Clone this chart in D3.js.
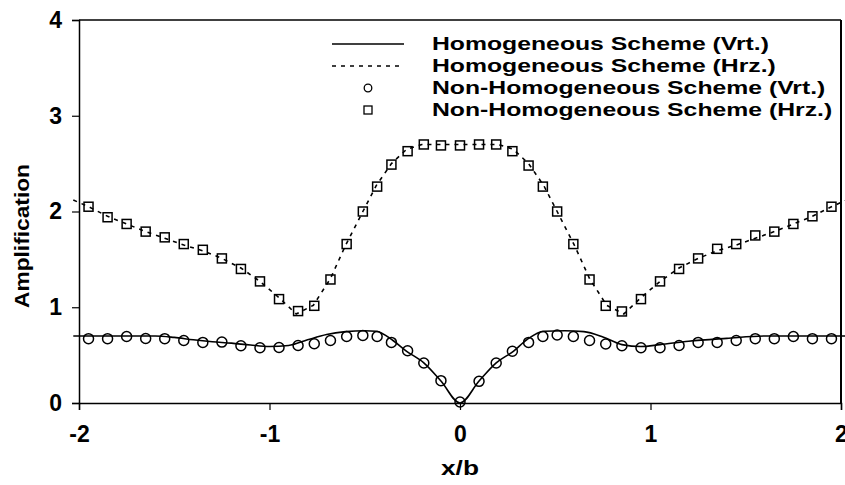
<!DOCTYPE html>
<html>
<head>
<meta charset="utf-8">
<script src="https://cdn.jsdelivr.net/npm/d3@7"></script>
<style>
  body { margin: 0; background: #fff; }
  text { font-family: Arial, "Liberation Sans", sans-serif; font-weight: bold; fill: #000; }
</style>
</head>
<body>
<div id="chart"></div>
<script>
// homogeneous scheme, vertical (solid line)
var homVrtX = [-2.03,-1.6,-1.5,-1.4,-1.3,-1.2,-1.1,-1.0,-0.9,-0.8,-0.7,-0.6,-0.5,-0.44,-0.35,-0.28,-0.19,-0.1,0,
               0.1,0.19,0.28,0.35,0.44,0.55,0.65,0.75,0.85,0.95,1.05,1.2,1.4,1.6,2.03];
var homVrtY = [0.70,0.70,0.685,0.66,0.64,0.625,0.605,0.59,0.60,0.66,0.715,0.745,0.755,0.75,0.65,0.54,0.42,0.23,0.0,
               0.23,0.42,0.54,0.66,0.75,0.755,0.745,0.69,0.61,0.59,0.61,0.645,0.675,0.70,0.70];

// homogeneous scheme, horizontal (dotted line)
var homHrzX = [-2.03,-1.95,-1.85,-1.75,-1.65,-1.55,-1.45,-1.35,-1.25,-1.15,-1.05,-0.95,-0.86,-0.77,-0.68,-0.6,-0.51,-0.44,-0.36,-0.28,-0.2,0,
               0.2,0.28,0.36,0.44,0.51,0.6,0.68,0.77,0.86,0.95,1.05,1.15,1.25,1.35,1.45,1.55,1.65,1.75,1.85,1.95,2.03];
var homHrzY = [2.12,2.05,1.95,1.87,1.79,1.72,1.65,1.59,1.51,1.41,1.27,1.10,0.93,1.02,1.30,1.65,2.0,2.27,2.5,2.65,2.70,2.70,
               2.70,2.65,2.5,2.27,2.0,1.65,1.30,1.02,0.93,1.10,1.27,1.41,1.51,1.59,1.65,1.72,1.79,1.87,1.95,2.05,2.12];

// non-homogeneous scheme sample points
var nonHomX = [-1.95,-1.85,-1.75,-1.65,-1.55,-1.45,-1.35,-1.25,-1.15,-1.05,-0.95,-0.85,-0.765,-0.68,-0.595,-0.51,-0.435,-0.36,-0.275,-0.19,-0.1,0,
               0.1,0.19,0.275,0.36,0.435,0.51,0.595,0.68,0.765,0.85,0.95,1.05,1.15,1.25,1.35,1.45,1.55,1.65,1.75,1.85,1.95];
var nonHomVrt = [0.672,0.672,0.695,0.674,0.672,0.653,0.633,0.636,0.598,0.577,0.58,0.601,0.619,0.653,0.695,0.706,0.695,0.633,0.546,0.418,0.233,0.01,
                 0.226,0.418,0.54,0.633,0.695,0.71,0.695,0.653,0.616,0.598,0.577,0.577,0.601,0.633,0.633,0.653,0.672,0.672,0.695,0.672,0.672];
var nonHomHrz = [2.05,1.94,1.87,1.79,1.73,1.66,1.60,1.51,1.40,1.27,1.085,0.96,1.015,1.29,1.66,2.0,2.26,2.49,2.63,2.70,2.69,2.69,
                 2.70,2.70,2.63,2.48,2.26,2.0,1.66,1.29,1.015,0.956,1.085,1.27,1.40,1.51,1.61,1.66,1.75,1.79,1.87,1.95,2.05];

var xTicks = [-2,-1,0,1,2];
var yTicks = [0,1,2,3,4];
var legendLabels = ["Homogeneous Scheme (Vrt.)","Homogeneous Scheme (Hrz.)",
                    "Non-Homogeneous Scheme (Vrt.)","Non-Homogeneous Scheme (Hrz.)"];

var W = 845, H = 485;
var mL = 79, mR = 841, mT = 20, mB = 403;

var svg = d3.select("#chart").append("svg").attr("width",W).attr("height",H);

var x = d3.scaleLinear().domain([-2,2]).range([mL,mR]);
var y = d3.scaleLinear().domain([0,4]).range([mB,mT]);

// frame
svg.append("line").attr("x1",mL).attr("x2",mR).attr("y1",mT).attr("y2",mT)
   .attr("stroke","#000").attr("stroke-width",1.5);
svg.append("line").attr("x1",mR).attr("x2",mR).attr("y1",mT).attr("y2",mB)
   .attr("stroke","#000").attr("stroke-width",2);

var fmt = function(d){ return String(d); };   // plain hyphen, as in the original
var xAxis = svg.append("g").attr("transform","translate(0,"+mB+")")
   .call(d3.axisBottom(x).tickValues(xTicks).tickSize(7).tickPadding(16).tickFormat(fmt));
var yAxis = svg.append("g").attr("transform","translate("+mL+",0)")
   .call(d3.axisLeft(y).tickValues(yTicks).tickSize(7).tickPadding(10).tickFormat(fmt));

[xAxis,yAxis].forEach(function(a){
    a.select(".domain").attr("stroke","#000").attr("stroke-width",1.5);
    a.selectAll(".tick line").attr("stroke","#000").attr("stroke-width",1.2);
    a.selectAll(".tick text").attr("font-size",23).attr("font-family","Arial, 'Liberation Sans', sans-serif")
     .attr("font-weight","bold").attr("fill","#000");
});

svg.append("text").attr("x",x(0)).attr("y",475).attr("text-anchor","middle")
   .attr("font-size",20).attr("textLength",38).attr("lengthAdjust","spacingAndGlyphs").text("x/b");
svg.append("text").attr("transform","translate(29,236) rotate(-90)")
   .attr("text-anchor","middle").attr("font-size",20)
   .attr("textLength",144).attr("lengthAdjust","spacingAndGlyphs").text("Amplification");

var plot = svg.append("g");

var lineGen = d3.line().x(function(d){return x(d[0]);}).y(function(d){return y(d[1]);});

plot.append("path")
   .attr("d", lineGen.curve(d3.curveMonotoneX)(d3.zip(homVrtX,homVrtY)))
   .attr("fill","none").attr("stroke","#000").attr("stroke-width",1.6);

plot.append("path")
   .attr("d", d3.line().x(function(d){return x(d[0]);}).y(function(d){return y(d[1]);})(d3.zip(homHrzX,homHrzY)))
   .attr("fill","none").attr("stroke","#000").attr("stroke-width",1.6).attr("stroke-dasharray","4,5");

plot.selectAll("circle.m").data(d3.zip(nonHomX,nonHomVrt)).enter().append("circle")
   .attr("class","m").attr("cx",function(d){return x(d[0]);}).attr("cy",function(d){return y(d[1]);})
   .attr("r",5).attr("fill","none").attr("stroke","#000").attr("stroke-width",1.5);

plot.selectAll("rect.m").data(d3.zip(nonHomX,nonHomHrz)).enter().append("rect")
   .attr("class","m").attr("x",function(d){return x(d[0])-4.5;}).attr("y",function(d){return y(d[1])-4.5;})
   .attr("width",9).attr("height",9).attr("fill","none").attr("stroke","#000").attr("stroke-width",1.5);

// legend
var lg = svg.append("g");
var rowY = [44,66,88,110];
lg.append("line").attr("x1",332).attr("x2",404).attr("y1",rowY[0]).attr("y2",rowY[0])
  .attr("stroke","#000").attr("stroke-width",1.6);
lg.append("line").attr("x1",332).attr("x2",404).attr("y1",rowY[1]).attr("y2",rowY[1])
  .attr("stroke","#000").attr("stroke-width",1.6).attr("stroke-dasharray","4,5");
lg.append("circle").attr("cx",368).attr("cy",rowY[2]).attr("r",3.8)
  .attr("fill","none").attr("stroke","#000").attr("stroke-width",1.3);
lg.append("rect").attr("x",364).attr("y",rowY[3]-4).attr("width",8).attr("height",8)
  .attr("fill","none").attr("stroke","#000").attr("stroke-width",1.3);
lg.selectAll("text").data(legendLabels).enter().append("text")
  .attr("x",432).attr("y",function(d,i){return rowY[i]+6;})
  .attr("font-size",18).text(function(d){return d;})
  .each(function(){
      var n = this.getComputedTextLength();
      d3.select(this).attr("textLength", n*1.375).attr("lengthAdjust","spacingAndGlyphs");
  });
</script>
</body>
</html>
